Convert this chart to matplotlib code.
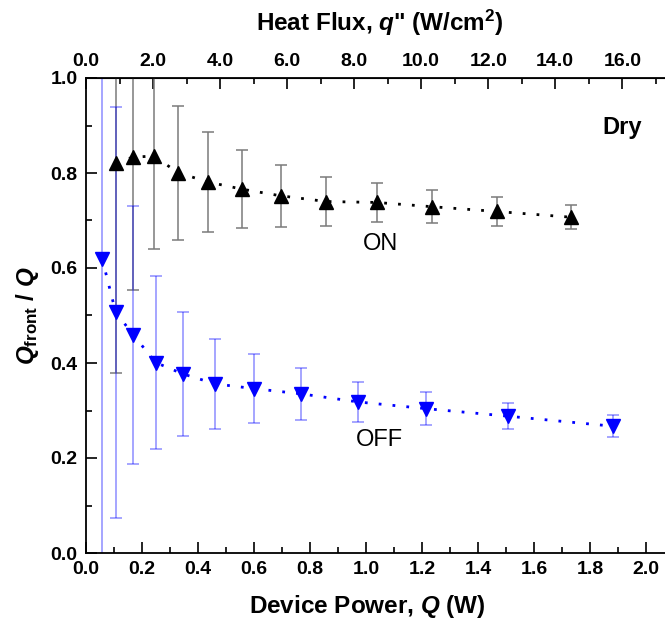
import numpy as np
import matplotlib
matplotlib.use("Agg")
import matplotlib.pyplot as plt
from matplotlib.ticker import MultipleLocator, FixedLocator, FormatStrFormatter

plt.rcParams['font.family'] = ['Liberation Sans', 'DejaVu Sans']
plt.rcParams['font.weight'] = 'bold'
plt.rcParams['mathtext.fontset'] = 'custom'
plt.rcParams['mathtext.rm'] = 'Liberation Sans:bold'
plt.rcParams['mathtext.bf'] = 'Liberation Sans:bold'
plt.rcParams['mathtext.it'] = 'Liberation Sans:italic:bold'

# heated area of the device, cm^2 (power -> heat flux)
area = 0.1197

# fan ON
q_on = [0.106, 0.167, 0.243, 0.327, 0.436, 0.557, 0.695, 0.857, 1.038, 1.237, 1.467, 1.731]
r_on = [0.822, 0.833, 0.836, 0.801, 0.781, 0.766, 0.752, 0.740, 0.738, 0.729, 0.719, 0.707]
e_on = [0.443, 0.280, 0.195, 0.141, 0.106, 0.082, 0.065, 0.052, 0.042, 0.035, 0.030, 0.025]

# fan OFF
q_off = [0.058, 0.106, 0.169, 0.249, 0.346, 0.462, 0.601, 0.769, 0.972, 1.213, 1.508, 1.881]
r_off = [0.619, 0.507, 0.459, 0.401, 0.377, 0.356, 0.346, 0.335, 0.318, 0.304, 0.288, 0.267]
e_off = [0.700, 0.433, 0.271, 0.182, 0.130, 0.094, 0.072, 0.055, 0.043, 0.034, 0.027, 0.023]

# heat flux ticks on the top axis
flux_ticks = [0.0, 2.0, 4.0, 6.0, 8.0, 10.0, 12.0, 14.0, 16.0]
flux_minor = [1.0, 3.0, 5.0, 7.0, 9.0, 11.0, 13.0, 15.0, 17.0]

fig = plt.figure(figsize=(6.65, 6.3), dpi=100)
ax = fig.add_axes([86/665, 77/630, 588/665, 475/630])

dots = (0, (1, 4))

# ON series
ax.errorbar(q_on, r_on, yerr=e_on, fmt='none', ecolor='#7a7a7a', elinewidth=1.1,
            capsize=4, capthick=1.1, zorder=2)
ax.plot(q_on, r_on, color='black', linestyle=dots, lw=2, zorder=3)
ax.plot(q_on, r_on, linestyle='none', marker='^', ms=10, color='black', zorder=4)

# OFF series
ax.errorbar(q_off, r_off, yerr=e_off, fmt='none', ecolor='blue', alpha=0.45,
            elinewidth=1.1, capsize=4, capthick=1.1, zorder=2)
ax.plot(q_off, r_off, color='blue', linestyle=dots, lw=2, zorder=3)
ax.plot(q_off, r_off, linestyle='none', marker='v', ms=10, color='blue', zorder=4)

ax.set_xlim(0, 2.1)
ax.set_ylim(0, 1.0)

ax.xaxis.set_major_locator(FixedLocator(np.arange(0, 2.01, 0.2)))
ax.xaxis.set_minor_locator(MultipleLocator(0.1))
ax.yaxis.set_major_locator(MultipleLocator(0.2))
ax.yaxis.set_minor_locator(MultipleLocator(0.1))
ax.xaxis.set_major_formatter(FormatStrFormatter('%.1f'))
ax.yaxis.set_major_formatter(FormatStrFormatter('%.1f'))
ax.tick_params(which='both', direction='in', width=1.2, labelsize=14, pad=6)
ax.tick_params(which='major', length=8)
ax.tick_params(which='minor', length=4)
for s in ax.spines.values():
    s.set_linewidth(1.3)

ax.set_xlabel(r'Device Power, $Q$ (W)', fontsize=17.5, fontweight='bold')
ax.xaxis.set_label_coords(0.478, -0.085)
ax.set_ylabel(r'$Q_{\mathrm{front}}$ / $Q$', fontsize=17.5, fontweight='bold')
ax.yaxis.set_label_coords(-0.077, 0.5)

# heat flux on the top axis
top = ax.secondary_xaxis('top', functions=(lambda x: x / area, lambda x: x * area))
top.xaxis.set_major_locator(FixedLocator(flux_ticks))
top.xaxis.set_minor_locator(FixedLocator(flux_minor))
top.xaxis.set_major_formatter(FormatStrFormatter('%.1f'))
top.tick_params(which='both', direction='in', width=1.2, labelsize=14, pad=6)
top.tick_params(which='major', length=8)
top.tick_params(which='minor', length=4)
top.set_xlabel(r'Heat Flux, $q$" (W/cm$^{2}$)', fontsize=17.5, fontweight='bold', labelpad=16)

ax.text(1.913, 0.895, 'Dry', fontsize=17, fontweight='bold', ha='center', va='center')
ax.text(1.05, 0.651, 'ON', fontsize=17, fontweight='normal', ha='center', va='center')
ax.text(1.047, 0.238, 'OFF', fontsize=17, fontweight='normal', ha='center', va='center')

fig.savefig('out.png', dpi=100)
